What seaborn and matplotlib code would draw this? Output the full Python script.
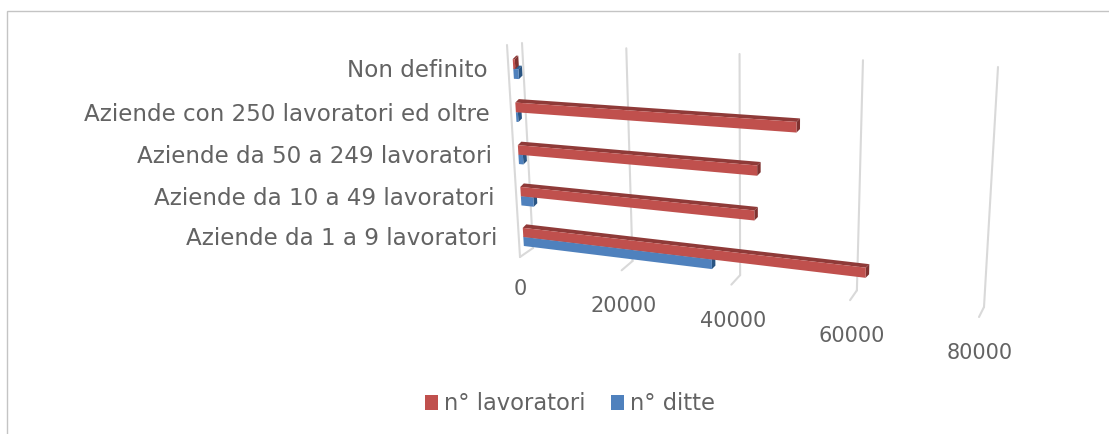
import numpy as np
import pandas as pd
import matplotlib
matplotlib.use("Agg")
import matplotlib.pyplot as plt
import seaborn as sns
from matplotlib.transforms import Transform, IdentityTransform
from matplotlib.patches import Polygon, Rectangle

categories = ["Non definito", "Aziende con 250 lavoratori ed oltre", "Aziende da 50 a 249 lavoratori",
              "Aziende da 10 a 49 lavoratori", "Aziende da 1 a 9 lavoratori"]
lavoratori = [400, 50500, 44000, 43500, 62000]
ditte = [1000, 400, 900, 2500, 36000]
series_names = ["n° lavoratori", "n° ditte"]
ticks = [0, 20000, 40000, 60000, 80000]

W, H = 1109, 434
VMAX = ticks[-1]
POS_TOP, POS_BOT = -0.5, 4.5


class Persp(Transform):
    input_dims = output_dims = 2

    def __init__(self, c00, c10, c01, c11, shift=(0, 0)):
        super().__init__()
        src = [(0, POS_BOT), (VMAX, POS_BOT), (0, POS_TOP), (VMAX, POS_TOP)]
        dst = [c00, c10, c01, c11]
        A, b = [], []
        for (u, v), (x, y) in zip(src, dst):
            x += shift[0]
            y += shift[1]
            A.append([u, v, 1, 0, 0, 0, -u * x, -v * x]); b.append(x)
            A.append([0, 0, 0, u, v, 1, -u * y, -v * y]); b.append(y)
        self.m = np.append(np.linalg.solve(np.array(A, float), np.array(b, float)), 1).reshape(3, 3)

    def transform_non_affine(self, values):
        values = np.asarray(values, float)
        p = np.c_[values, np.ones(len(values))] @ self.m.T
        x = p[:, 0] / p[:, 2]
        y = p[:, 1] / p[:, 2]
        return np.c_[x, H - y]


# image-pixel corners of the three receding planes
T_back = Persp((533, 248), (984, 307), (522, 43), (998, 67))
T_wall = Persp((520, 257), (979, 317), (507, 45), (991, 70))
T_bar = Persp((524.5, 257), (981, 315), (512, 47), (994, 70))
T_bar_b = Persp((524.5, 257), (981, 315), (512, 47), (994, 70), shift=(3.5, -3.5))

sns.set_theme(style="white")
TXT = "#636363"
plt.rcParams["font.family"] = ["DejaVu Sans"]
fig = plt.figure(figsize=(W / 100, H / 100), dpi=100, facecolor="white")
ax = fig.add_axes([0, 0, 1, 1])

df = pd.DataFrame({
    "cat": categories * 2,
    "val": lavoratori + ditte,
    "serie": [series_names[0]] * 5 + [series_names[1]] * 5,
})
front = ["#C0504D", "#4F81BD"]
top_c = ["#8F3A38", "#2F5F92"]
end_c = ["#7F3230", "#2A5583"]
sns.barplot(data=df, y="cat", x="val", hue="serie", order=categories, hue_order=series_names,
            palette=front, saturation=1, width=0.45, orient="h", ax=ax, linewidth=0, dodge=True)
handles, labels = ax.get_legend_handles_labels()
if ax.get_legend():
    ax.get_legend().remove()
ax.set_axis_off()

GRID = "#D9D9D9"
for v in ticks:
    ax.plot([v, v], [POS_TOP, POS_BOT], color=GRID, lw=1.5, transform=T_back, clip_on=False, zorder=1)
    a = T_back.transform(np.array([[v, POS_BOT]]))[0]
    b = T_wall.transform(np.array([[v, POS_BOT]]))[0]
    ax.plot([a[0], b[0]], [a[1], b[1]], color=GRID, lw=1.5, transform=IdentityTransform(), clip_on=False, zorder=1)
    ax.annotate(str(v), xy=(v, POS_BOT), xycoords=T_wall,
                xytext=(0.5 if v in (0, VMAX) else 1.5, -36 if v else -32),
                textcoords="offset pixels", ha="center", va="center", fontsize=15, color=TXT,
                annotation_clip=False)
ax.plot([0, 0], [POS_TOP, POS_BOT], color=GRID, lw=1.5, transform=T_wall, clip_on=False, zorder=1)

for s, cont in enumerate(ax.containers):
    for patch, val in zip(cont.patches, [lavoratori, ditte][s]):
        x0, x1 = patch.get_x(), patch.get_x() + patch.get_width()
        y0, y1 = sorted((patch.get_y(), patch.get_y() + patch.get_height()))
        z = 3 + y0 * 2 + (0.5 if s == 0 else 0)
        patch.set_transform(T_bar)
        patch.set_clip_on(False)
        patch.set_zorder(z + 0.2)
        F = lambda a, b: T_bar.transform(np.array([[a, b]]))[0]
        B = lambda a, b: T_bar_b.transform(np.array([[a, b]]))[0]
        ax.add_patch(Polygon([F(x0, y0), F(x1, y0), B(x1, y0), B(x0, y0)], closed=True, fc=top_c[s], lw=0,
                             transform=IdentityTransform(), clip_on=False, zorder=z))
        ax.add_patch(Polygon([F(x1, y0), F(x1, y1), B(x1, y1), B(x1, y0)], closed=True, fc=end_c[s], lw=0,
                             transform=IdentityTransform(), clip_on=False, zorder=z))

for i, c in enumerate(categories):
    ax.annotate(c, xy=(0, i), xycoords=T_bar, xytext=(-26, -2), textcoords="offset pixels",
                ha="right", va="center", fontsize=16.6, color=TXT, annotation_clip=False)

ax.legend(handles, labels, loc="center", bbox_to_anchor=(570 / W, 1 - 404 / H), bbox_transform=fig.transFigure,
          ncols=2, frameon=False, fontsize=16.3, labelcolor=TXT, handlelength=0.58, handleheight=0.58,
          handletextpad=0.28, columnspacing=1.1, borderpad=0)

# chart frame
fig.add_artist(Rectangle((7 / W, -0.05), 1.2, 1 - 11 / H + 0.05, transform=fig.transFigure, fill=False,
                         ec="#C4C4C4", lw=1))
fig.savefig("out.png", dpi=100, facecolor="white")
